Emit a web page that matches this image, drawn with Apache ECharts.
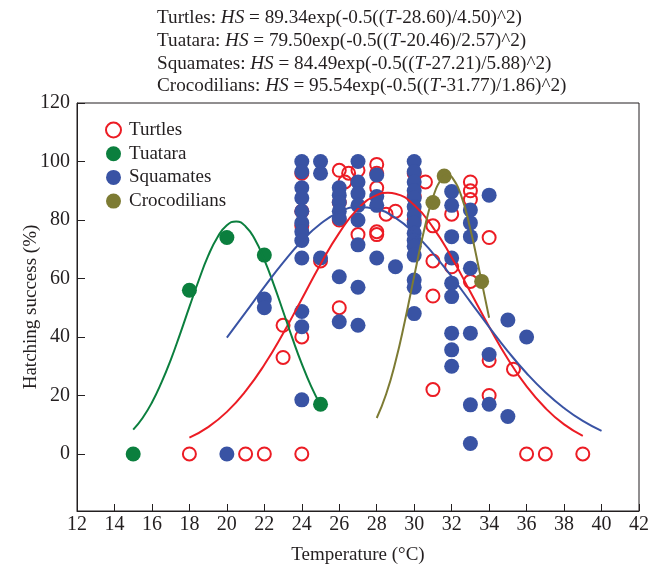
<!DOCTYPE html>
<html><head><meta charset="utf-8">
<script src="https://cdn.jsdelivr.net/npm/echarts@6/dist/echarts.min.js"></script>
<style>html,body{margin:0;padding:0;background:#fff}#c{width:664px;height:565px}</style>
</head><body><div id="c"></div>
<script>
// ---- fitted model parameters (as printed in the chart) ----
const speciesNames = ['Turtles', 'Tuatara', 'Squamates', 'Crocodilians'];
const fitA  = [89.34, 79.50, 84.49, 95.54];
const fitMu = [28.60, 20.46, 27.21, 31.77];
const fitSd = [4.50, 2.57, 5.88, 1.86];

// ---- tick labels ----
const xTicks = [12,14,16,18,20,22,24,26,28,30,32,34,36,38,40,42];
const yTicks = [0,20,40,60,80,100,120];

// ---- observed points ----
const turtlesT  = [18,21,22,24,36,37,39, 23,23, 24,24,24,24, 25, 26,26.5,26.3,26,26,26, 27,27, 28,28,28,28,28,28.5, 29, 30,30,30, 30.6,31,31,31,31, 32,32, 33,33,33,33, 34,34,34, 35.3];
const turtlesHS = [0,0,0,0,0,0,0, 44,33, 96,83,78,40, 66, 97,96,93,86,80,50, 97,75, 99,96,91,76,75,82, 83, 96,88,80, 93,78,66,54,22, 82,64, 93,90,87,59, 74,32,20, 29];

const tuataraT  = [15, 18, 20, 22, 25];
const tuataraHS = [0, 56, 74, 68, 17];

const squamT  = [20, 22,22, 24,24,24,24,24,24,24,24,24,24,24,24, 25,25,25, 26,26,26,26,26,26,26, 27,27,27,27,27,27,27,27, 28,28,28,28, 29, 30,30,30,30,30,30,30,30,30,30,30,30,30,30,30, 32,32,32,32,32,32,32,32,32, 33,33,33,33,33,33,33, 34,34,34, 35,35, 36];
const squamHS = [0, 53,50, 100,96.5,91,87.5,83,79,76,73,67,48.7,43.5,18.5, 100,96,67, 91,88.5,86,83,80.5,60.6,45.2, 100,93,89,85,80,71.5,57,44, 95.4,88,85,67, 64, 100,96.5,93,90,87.5,84.5,81.7,79,75.5,73,71,68,59.5,57,48, 89.7,85,74.3,67,58.4,53.8,41.3,35.6,30, 83.4,79,74.3,63.5,41.3,16.8,3.6, 88.5,34,17, 45.8,12.8, 40];

const crocT  = [31, 31.6, 33.6];
const crocHS = [86, 95, 59];

// ---- fitted curves, values ----
const turtleCurveT  = [18,19,20,21,22,23,24,25,26,27,28,28.6,29,30,31,32,33,34,35,36,37,38,39];
const turtleCurveHS = [5.6,9.2,14.4,21.5,30.5,41.2,53.0,64.9,75.6,83.9,88.5,89.3,89.0,85.1,77.5,67.2,55.4,43.5,32.5,23.1,15.7,10.1,6.2];

const tuataraCurveT  = [15,15.5,16,16.5,17,17.5,18,18.5,19,19.5,20,20.5,21,21.5,22,22.5,23,23.5,24,24.5,25];
const tuataraCurveHS = [8.3,12.3,17.6,24.3,32.1,41.0,50.3,59.4,67.7,74.1,78.2,79.5,77.8,73.3,66.4,58.0,48.8,39.5,30.8,23.1,16.7];

const squamCurveT  = [20,21,22,23,24,25,26,27,28,29,30,31,32,33,34,35,36,37,38,39,40];
const squamCurveHS = [39.8,48.4,57.1,65.4,72.8,78.7,82.7,84.4,83.7,80.7,75.5,68.6,60.6,52.0,43.4,35.1,27.6,21.1,15.7,11.3,7.9];

const crocCurveT  = [28,28.5,29,29.5,30,30.5,31,31.5,31.77,32,32.5,33,33.5,34];
const crocCurveHS = [12.3,20.4,31.5,45.4,60.8,75.7,87.7,94.5,95.5,94.8,88.5,76.8,62.0,46.6];

// ---- styling ----
const SERIF = '"Liberation Serif","Times New Roman",serif';
const TXT = '#231f20';
const cRed = '#ec1c24', cGreen = '#0b7f3e', cBlue = '#3953a4', cOlive = '#7d7b33';

const zip = (a, b) => a.map((v, i) => [v, b[i]]);

const titleLines = speciesNames.map((n, i) =>
  '{n|' + n + ': }{i|HS}{n| = ' + fitA[i].toFixed(2) + 'exp(-0.5((}{i|T}{n|-' +
  fitMu[i].toFixed(2) + ')/' + fitSd[i].toFixed(2) + ')^2)}');

const TF = 19.2;
const chart = echarts.init(document.getElementById('c'), null, {renderer: 'canvas'});
chart.setOption({
  animation: false,
  backgroundColor: '#fff',
  title: {
    left: 157, top: 7, padding: 0,
    text: titleLines.join('\n'),
    textStyle: {
      fontFamily: SERIF, fontSize: TF, fontWeight: 'normal', color: TXT, lineHeight: 22.7,
      rich: {
        n: {fontFamily: SERIF, fontSize: TF, color: TXT, lineHeight: 22.7},
        i: {fontFamily: SERIF, fontSize: TF, color: TXT, lineHeight: 22.7, fontStyle: 'italic'}
      }
    }
  },
  legend: {
    orient: 'vertical', left: 105, top: 120.5, padding: 0,
    itemWidth: 15, itemHeight: 15, itemGap: 4.7,
    textStyle: {fontFamily: SERIF, fontSize: 19, color: TXT, padding: [0, 0, 0, 3]},
    data: [
      {name: 'Turtles', icon: 'circle', itemStyle: {color: 'rgba(0,0,0,0)', borderColor: cRed, borderWidth: 2}},
      {name: 'Tuatara', icon: 'circle'},
      {name: 'Squamates', icon: 'circle'},
      {name: 'Crocodilians', icon: 'circle'}
    ]
  },
  grid: {left: 77, right: 25, top: 103, bottom: 54, show: true, borderColor: '#231f20', borderWidth: 1,
         containLabel: false, outerBoundsMode: 'none'},
  xAxis: {
    type: 'value', min: 12, max: 42, interval: 2,
    name: 'Temperature (°C)', nameLocation: 'middle', nameGap: 35, nameMoveOverlap: false,
    nameTextStyle: {fontFamily: SERIF, fontSize: 19, color: TXT},
    axisLine: {show: true, onZero: false, lineStyle: {color: '#231f20', width: 1}},
    axisTick: {show: true, inside: true, length: 7, lineStyle: {color: '#231f20'}, customValues: xTicks},
    axisLabel: {fontFamily: SERIF, fontSize: 20, color: TXT, margin: 4, customValues: xTicks},
    splitLine: {show: false}
  },
  yAxis: {
    type: 'value', min: -19.5, max: 120,
    name: 'Hatching success (%)', nameLocation: 'middle', nameGap: 36, nameRotate: 90, nameMoveOverlap: false,
    nameTextStyle: {fontFamily: SERIF, fontSize: 19, color: TXT},
    axisLine: {show: true, onZero: false, lineStyle: {color: '#231f20', width: 1}},
    axisTick: {show: true, inside: true, length: 8, lineStyle: {color: '#231f20'}, customValues: yTicks},
    axisLabel: {fontFamily: SERIF, fontSize: 20, color: TXT, margin: 7, customValues: yTicks},
    splitLine: {show: false}
  },
  series: [
    {name: 'Turtles', type: 'scatter', z: 2, symbol: 'circle', symbolSize: 13,
     itemStyle: {color: 'rgba(0,0,0,0)', borderColor: cRed, borderWidth: 2, opacity: 1},
     data: zip(turtlesT, turtlesHS)},
    {name: 'Tuatara', type: 'scatter', z: 3, symbol: 'circle', symbolSize: 15,
     itemStyle: {color: cGreen, opacity: 1}, data: zip(tuataraT, tuataraHS)},
    {name: 'Squamates', type: 'scatter', z: 3, symbol: 'circle', symbolSize: 15,
     itemStyle: {color: cBlue, opacity: 1}, data: zip(squamT, squamHS)},
    {name: 'Crocodilians', type: 'scatter', z: 3, symbol: 'circle', symbolSize: 15,
     itemStyle: {color: cOlive, opacity: 1}, data: zip(crocT, crocHS)},
    {name: 'Turtles fit', type: 'line', z: 4, smooth: true, showSymbol: false, symbol: 'none',
     lineStyle: {color: cRed, width: 2}, data: zip(turtleCurveT, turtleCurveHS)},
    {name: 'Tuatara fit', type: 'line', z: 4, smooth: true, showSymbol: false, symbol: 'none',
     lineStyle: {color: cGreen, width: 2}, data: zip(tuataraCurveT, tuataraCurveHS)},
    {name: 'Squamates fit', type: 'line', z: 4, smooth: true, showSymbol: false, symbol: 'none',
     lineStyle: {color: cBlue, width: 2}, data: zip(squamCurveT, squamCurveHS)},
    {name: 'Crocodilians fit', type: 'line', z: 4, smooth: true, showSymbol: false, symbol: 'none',
     lineStyle: {color: cOlive, width: 2}, data: zip(crocCurveT, crocCurveHS)}
  ]
});
</script>
</body></html>
